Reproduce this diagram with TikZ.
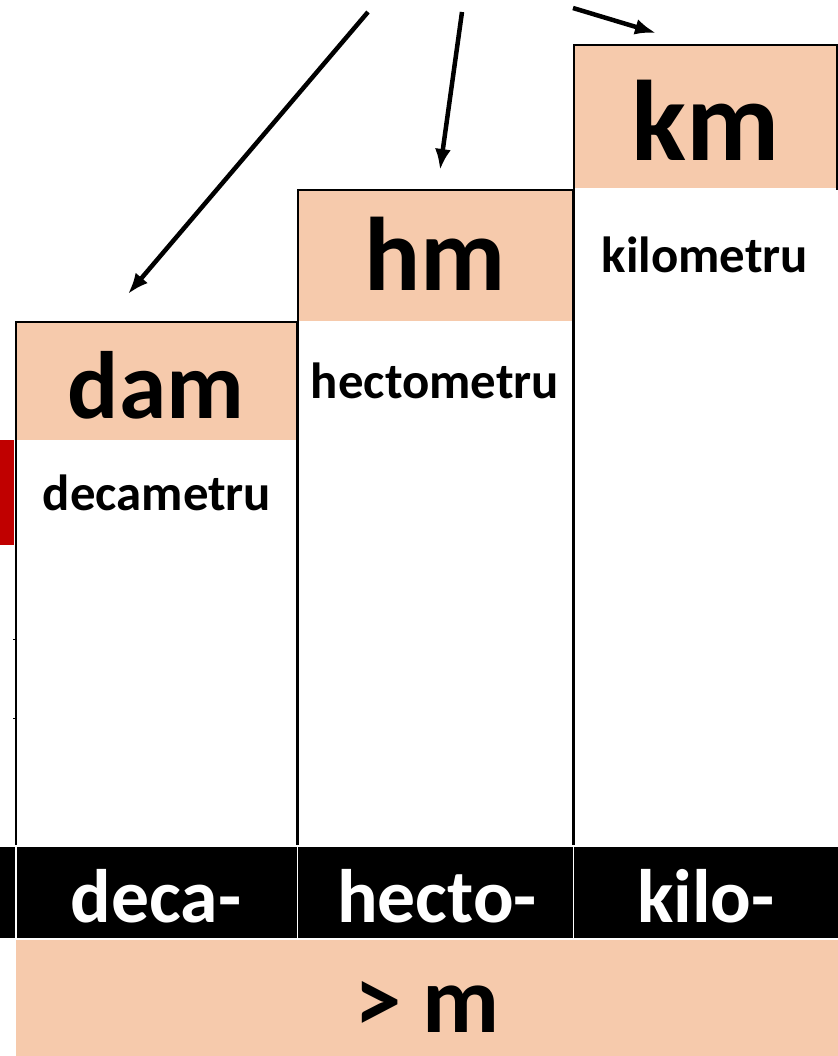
\documentclass[tikz,border=0pt]{standalone}
\usepackage{fontspec}
\setmainfont{Carlito}
\usepackage{tikz}
\usetikzlibrary{arrows.meta}
\definecolor{peach}{HTML}{F6CAAC}
\definecolor{darkred}{HTML}{C00000}

\begin{document}
\begin{tikzpicture}[x=1bp,y=-1bp,
  unit/.style={font=\bfseries\fontsize{#1}{#1}\selectfont,anchor=base,inner sep=0pt},
  pointer/.style={-{Latex[length=21bp,width=16bp]},line width=4.5bp}]
\useasboundingbox (0,0) rectangle (838,1056);
% columns
\fill[peach] (16,322) rectangle (297,440);
\fill[peach] (298,190) rectangle (573,321);
\fill[peach] (574,45) rectangle (837,188);
\draw[line width=1.5bp] (16,845) -- (16,322) -- (297,322) -- (297,845);
\draw[line width=1.5bp] (298,845) -- (298,190) -- (573,190) -- (573,845);
\draw[line width=1.5bp] (574,845) -- (574,45) -- (837,45) -- (837,190);
\fill[darkred] (0,440) rectangle (14,545);
\draw[line width=1bp] (13,639) -- (16,639);
\draw[line width=1bp] (13,718) -- (16,718);
% prefix bar
\fill[black] (0,847) rectangle (838,938);
\draw[white,line width=1.5bp] (16,847) -- (16,938);
\draw[white,line width=1.5bp] (297.5,847) -- (297.5,938);
\draw[white,line width=1.5bp] (573.5,847) -- (573.5,938);
\fill[peach] (16,940) rectangle (838,1056);
% labels
\node[unit=96] (dam) at (156,418) {dam};
\node[unit=105] (hm) at (435,290) {hm};
\node[unit=115] (km) at (706,160) {km};
\node[unit=51] (decametru) at (157,510) {decametru};
\node[unit=51] (hectometru) at (435,398) {hectometru};
\node[unit=51] (kilometru) at (705,272) {kilometru};
\node[unit=76,text=white] (deca) at (156,922) {deca-};
\node[unit=76,text=white] (hecto) at (437,922) {hecto-};
\node[unit=76,text=white] (kilo) at (706,922) {kilo-};
\node[unit=95] (bigger) at (427,1032) {> m};
% arrows
\coordinate (s1) at (368,12);
\coordinate (t1) at (128,294);
\coordinate (s2) at (462,12);
\coordinate (t2) at (440,170);
\coordinate (s3) at (573,8);
\coordinate (t3) at (656,33);
\draw[pointer] (s1) -- (t1);
\draw[pointer] (s2) -- (t2);
\draw[pointer] (s3) -- (t3);
\end{tikzpicture}
\end{document}
